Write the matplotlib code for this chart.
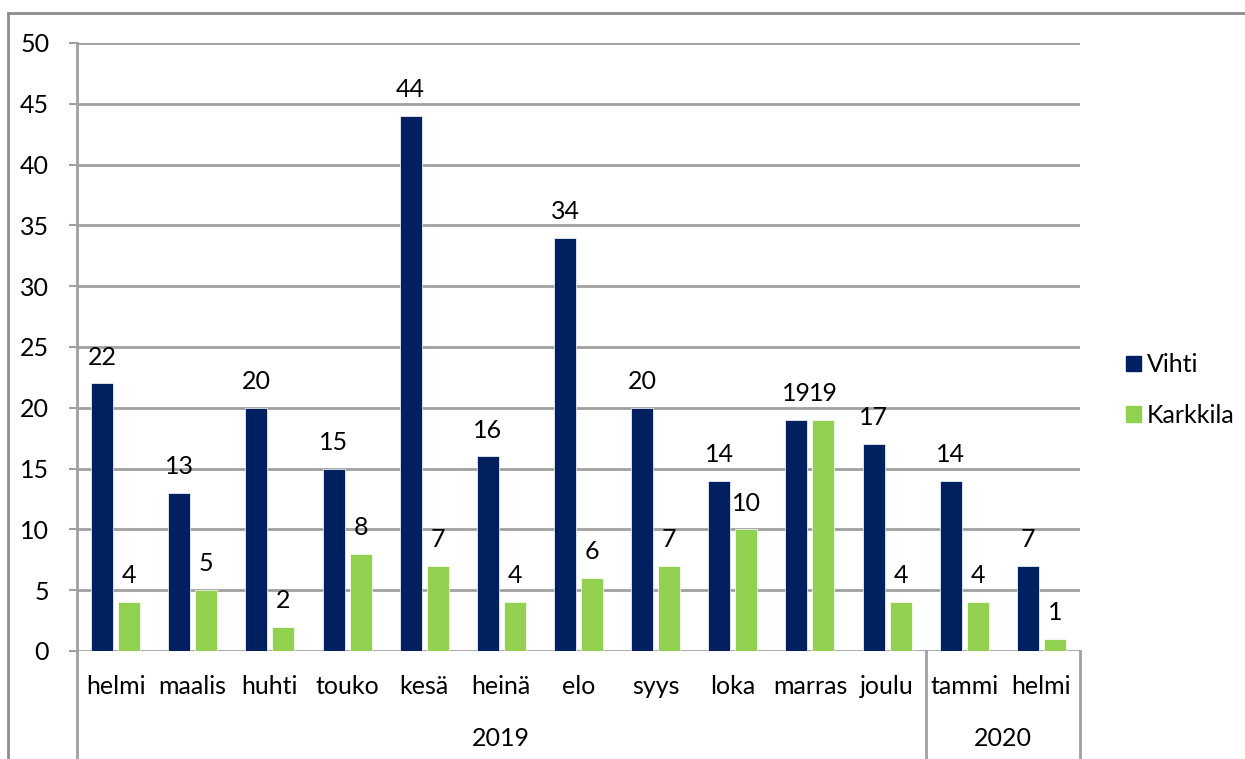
import matplotlib

matplotlib.use("Agg")
import matplotlib.pyplot as plt
import numpy as np
from matplotlib.patches import Patch, Rectangle

# data
months = ["helmi", "maalis", "huhti", "touko", "kesä", "heinä", "elo",
          "syys", "loka", "marras", "joulu", "tammi", "helmi"]
years = ["2019", "2020"]
months_per_year = [11, 2]
vihti = [22, 13, 20, 15, 44, 16, 34, 20, 14, 19, 17, 14, 7]
karkkila = [4, 5, 2, 8, 7, 4, 6, 7, 10, 19, 4, 4, 1]
yticks = [0, 5, 10, 15, 20, 25, 30, 35, 40, 45, 50]

NAVY = "#002060"
GREEN = "#92D050"
GRID = "#a0a0a0"
FONT = 18

plt.rcParams["font.family"] = ["Lato", "DejaVu Sans"]

W, H = 1245, 759
fig = plt.figure(figsize=(W / 100, H / 100), dpi=100)
# outer chart border (cropped at right and bottom)
fig.patches.append(Rectangle((8 / W, -0.1), 1.2, 1 - 13 / H + 0.1,
                             transform=fig.transFigure, fill=False,
                             edgecolor="#8c8c8c", linewidth=2))

ax = fig.add_axes([77 / W, (H - 651) / H, 1003 / W, 608 / H])
x = np.arange(len(months))
bw = 0.285
off = 0.175
b1 = ax.bar(x - off, vihti, bw, color=NAVY, edgecolor="white", linewidth=0.5, zorder=3)
b2 = ax.bar(x + off, karkkila, bw, color=GREEN, edgecolor="white", linewidth=0.5, zorder=3)

for bars, vals in ((b1, vihti), (b2, karkkila)):
    for bar, v in zip(bars, vals):
        ax.annotate(str(v), (bar.get_x() + bar.get_width() / 2, v),
                    xytext=(0, 19), textcoords="offset points",
                    ha="center", va="center", fontsize=FONT)

ax.set_xlim(-0.5, len(months) - 0.5)
ax.set_ylim(0, 50)
ax.set_yticks(yticks)
ax.tick_params(axis="y", length=6, width=1.5, color=GRID, pad=14, labelsize=FONT)
ax.set_xticks([])
ax.grid(axis="y", color=GRID, linewidth=2, zorder=0)
for s in ("top", "right", "bottom"):
    ax.spines[s].set_visible(False)
ax.spines["left"].set_color(GRID)
ax.spines["left"].set_linewidth(2)

# multi-level category axis
tr = ax.get_xaxis_transform()
ph = 608
for xi, m in zip(x, months):
    ax.text(xi, -35 / ph, m, transform=tr, ha="center", va="center", fontsize=FONT)
start = 0
seps = [-0.5]
for yr, n in zip(years, months_per_year):
    ax.text(start + n / 2 - 0.5, -87 / ph, yr, transform=tr,
            ha="center", va="center", fontsize=FONT)
    start += n
    seps.append(start - 0.5)
for sx in seps:
    ax.plot([sx, sx], [0, -120 / ph], transform=tr, color=GRID,
            linewidth=2, clip_on=False)

handles = [Patch(color=NAVY, label="Vihti"), Patch(color=GREEN, label="Karkkila")]
fig.legend(handles=handles, loc="center left",
           bbox_to_anchor=(1103 / W, 1 - 390 / H), frameon=False,
           fontsize=FONT, handlelength=0.6, handleheight=0.6,
           handletextpad=0.25, labelspacing=1.1)

fig.savefig("out.png", dpi=100)
